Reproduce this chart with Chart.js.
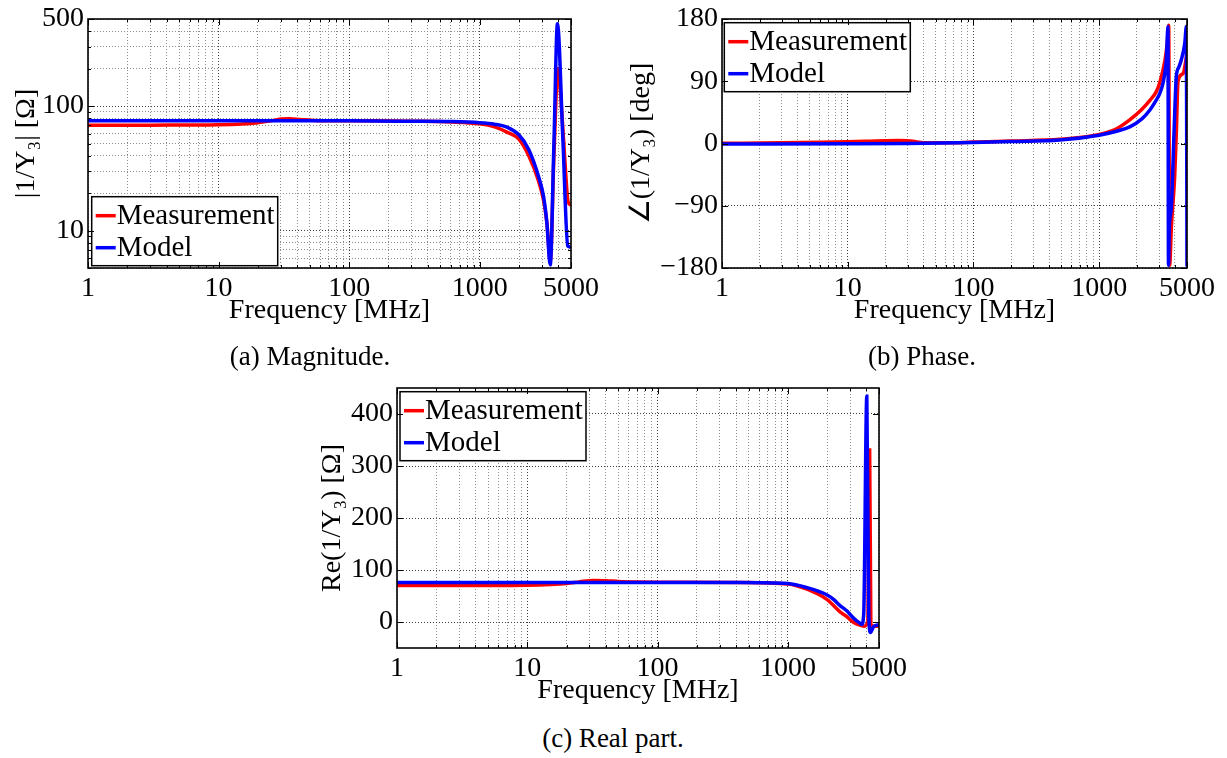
<!DOCTYPE html>
<html>
<head>
<meta charset="utf-8">
<script src="https://cdn.jsdelivr.net/npm/chart.js@4.4.1/dist/chart.umd.min.js"></script>
<style>
  body { margin: 0; width: 1227px; height: 758px; background: #fff; position: relative; overflow: hidden; }
  canvas { position: absolute; }
  .caption { position: absolute; width: 300px; text-align: center; font: 27px "Liberation Serif", serif; line-height: 27px; color: #000; }
</style>
</head>
<body>
<canvas id="cMag" width="600" height="330" style="left:0px;top:0px"></canvas>
<canvas id="cPhase" width="627" height="330" style="left:600px;top:0px"></canvas>
<canvas id="cRe" width="630" height="340" style="left:290px;top:370px"></canvas>
<div class="caption" style="left:160px;top:343px">(a) Magnitude.</div>
<div class="caption" style="left:772px;top:343px">(b) Phase.</div>
<div class="caption" style="left:463px;top:725px">(c) Real part.</div>

<script>
/* ── Data ─────────────────────────────────────────────────── */

// frequency axis (MHz), shared by the three panels
const freqGrid = [1, 2, 3, 4, 5, 6, 7, 8, 9, 10, 20, 30, 40, 50, 60, 70, 80, 90,
  100, 200, 300, 400, 500, 600, 700, 800, 900, 1000, 2000, 3000, 4000, 5000];
const freqLabels = [1, 10, 100, 1000, 5000];
const freqDark = [10, 100, 1000];

// (a) magnitude |1/Y3| [Ohm]
const magGrid = [5, 6, 7, 8, 9, 10, 20, 30, 40, 50, 60, 70, 80, 90, 100, 200, 300, 400, 500];
const magLabels = [10, 100, 500];
const magDark = [10, 100];
const magFreqMeas = [1, 3, 10, 15, 20, 25, 30, 35, 42, 55, 80, 150, 300, 600, 1000, 1300, 1600,
  2000, 2370, 2820, 3080, 3270, 3470, 3700, 3975, 4250, 4500, 4750, 5000];
const magMeas = [70, 70.2, 70.8, 71.8, 73.5, 76, 78.5, 79, 78, 76.5, 76, 76, 75.5, 74.5, 72, 68, 62,
  54, 40, 25, 17.5, 11.5, 5.6, 40, 200, 90, 35, 17, 16];
const magFreqModel = [1, 10, 100, 300, 600, 1000, 1300, 1600, 1985, 2366, 2820, 3080, 3265, 3466,
  3700, 3937, 4330, 4724, 4850, 5000];
const magModel = [76, 76, 76, 75.5, 75, 73.5, 71.5, 68, 59, 45, 27.2, 18.8, 11.6, 5.3,
  50, 458, 55, 7.5, 7.4, 7.3];

// (b) phase [deg]
const phaseTicks = [-180, -90, 0, 90, 180];
const phaseFreqMeas = [1, 3, 6, 10, 15, 20, 25, 30, 35, 42, 60, 100, 200, 486, 1000, 1400, 1750, 2200,
  2525, 2850, 3033, 3322, 3480, 3575, 3640, 3757, 3990, 4113, 4240, 4645, 5000];
const phaseMeas = [0.3, 1, 1.8, 2.6, 3.4, 4, 4.3, 4, 2.5, 1, 1, 2, 3.5, 6, 13, 22, 34, 50,
  62, 75, 88, 118, 145, 171, -176, -120, -48, 15, 90, 101, 130];
const phaseFreqModel = [1, 10, 30, 100, 200, 486, 1000, 1400, 1750, 2200, 2525, 2853, 3033, 3219,
  3322, 3425, 3530, 3560, 3620, 3757, 3950, 4113, 4300, 4507, 4800, 4943, 5000];
const phaseModel = [-0.6, -0.4, 0, 1.5, 3, 5, 12, 18, 24, 36, 48, 63, 72, 87,
  101, 121, 169, -176, -120, -91, 20, 97, 110, 121, 145, 169, -178];

// (c) real part Re(1/Y3) [Ohm]
const reTicks = [0, 100, 200, 300, 400];
const reFreqMeas = [1, 5, 10, 15, 20, 25, 32, 40, 50, 70, 100, 431, 1000, 1400, 2000, 2524, 2843,
  3013, 3300, 3597, 3850, 4100, 4238, 4330, 4550, 5000];
const reMeas = [70, 70, 70.5, 72, 74, 77, 80, 79.5, 78, 77, 76.5, 76, 73, 63, 43, 19, 10,
  4, -3, -6, -8, 0, 331, -5, -8, -8];
const reFreqModel = [1, 10, 100, 431, 1000, 1402, 2000, 2250, 2524, 2843, 3013, 3300, 3597, 3680,
  3815, 4030, 4170, 4300, 4550, 5000];
const reModel = [76, 76, 76, 76, 74, 66, 52, 43, 31, 21, 14, 4, -3, -5,
  14, 434, 17, -20, -8.5, -5];

/* ── Helpers ──────────────────────────────────────────────── */

const FONT = '"Liberation Serif", "Times New Roman", serif';
Chart.defaults.font.family = FONT;
Chart.defaults.color = '#000';

const pts = (xs, ys) => xs.map((x, i) => ({ x, y: ys[i] }));

function series(freqM, meas, freqMod, model) {
  const common = { pointRadius: 0, borderWidth: 3.5, fill: false, cubicInterpolationMode: 'monotone' };
  return [
    { label: 'Measurement', data: pts(freqM, meas), borderColor: '#ff0000', order: 2, ...common },
    { label: 'Model', data: pts(freqMod, model), borderColor: '#0000ff', order: 1, ...common },
  ];
}

const gridColor = dark => ctx => (ctx.tick && dark.includes(ctx.tick.value) ? '#404040' : '#8c8c8c');

function xAxis(height) {
  return {
    type: 'logarithmic', min: 1, max: 5000,
    afterBuildTicks: s => { s.ticks = freqGrid.map(v => ({ value: v })); },
    afterFit: s => { s.height = height; s.paddingLeft = 0; s.paddingRight = 0; },
    ticks: {
      autoSkip: false, maxRotation: 0, padding: 7,
      font: { size: 28, lineHeight: 1 },
      callback: v => (freqLabels.includes(v) ? String(v) : ''),
    },
    grid: { drawTicks: false, lineWidth: 1, color: gridColor(freqDark) },
    border: { display: false, dash: [1, 2] },
    title: { display: true, text: 'Frequency [MHz]', font: { size: 28, lineHeight: 1 }, padding: { top: 0, bottom: 5 } },
  };
}

function yAxis(opts) {
  return {
    type: opts.type, min: opts.min, max: opts.max,
    afterBuildTicks: s => { s.ticks = opts.grid.map(v => ({ value: v })); },
    afterFit: s => { s.width = opts.width; s.paddingTop = 0; s.paddingBottom = 0; },
    ticks: {
      autoSkip: false, padding: 4,
      font: { size: 28, lineHeight: 1 },
      callback: v => (opts.labels.includes(v) ? (v < 0 ? '\u2212' + Math.abs(v) : String(v)) : ''),
    },
    grid: { drawTicks: false, lineWidth: 1, color: gridColor(opts.dark) },
    border: { display: false, dash: [1, 2] },
    title: { display: true, text: opts.title, font: { size: 28, lineHeight: 1 }, padding: { top: opts.titlePad, bottom: 0 } },
  };
}

/* ── Plugins: boxed legend + axes frame ───────────────────── */

const boxLegend = {
  id: 'boxLegend',
  afterDatasetsDraw(chart, args, opts) {
    const { ctx, chartArea: a } = chart;
    const w = 186, h = 69;
    const x = a.left + opts.dx;
    const y = opts.anchor === 'bottom' ? a.bottom - opts.dy - h : a.top + opts.dy;
    ctx.save();
    ctx.fillStyle = '#fff';
    ctx.fillRect(x, y, w, h);
    ctx.strokeStyle = '#000';
    ctx.lineWidth = 1.5;
    ctx.strokeRect(x, y, w, h);
    ctx.font = '29px ' + FONT;
    ctx.textBaseline = 'middle';
    chart.data.datasets.forEach((ds, i) => {
      const ry = y + 19 + i * 32;
      ctx.strokeStyle = ds.borderColor;
      ctx.lineWidth = 3.5;
      ctx.beginPath();
      ctx.moveTo(x + 4, ry);
      ctx.lineTo(x + 24, ry);
      ctx.stroke();
      ctx.fillStyle = '#000';
      ctx.fillText(ds.label, x + 25, ry + 1);
    });
    ctx.restore();
  },
};

const frame = {
  id: 'frame',
  afterDraw(chart) {
    const { ctx, chartArea: a, scales } = chart;
    ctx.save();
    ctx.strokeStyle = '#000';
    ctx.lineWidth = 1;
    // small inward tick marks on all four sides
    ctx.beginPath();
    scales.x.ticks.forEach(t => {
      const px = Math.round(scales.x.getPixelForValue(t.value)) + 0.5;
      const len = t.label ? 6 : 3;
      ctx.moveTo(px, a.bottom); ctx.lineTo(px, a.bottom - len);
      ctx.moveTo(px, a.top); ctx.lineTo(px, a.top + len);
    });
    scales.y.ticks.forEach(t => {
      const py = Math.round(scales.y.getPixelForValue(t.value)) + 0.5;
      const len = t.label ? 6 : 3;
      ctx.moveTo(a.left, py); ctx.lineTo(a.left + len, py);
      ctx.moveTo(a.right, py); ctx.lineTo(a.right - len, py);
    });
    ctx.stroke();
    ctx.lineWidth = 1.6;
    ctx.strokeRect(a.left, a.top, a.right - a.left, a.bottom - a.top);
    ctx.restore();
  },
};

function makeChart(id, datasets, y, padding, legend) {
  return new Chart(document.getElementById(id), {
    type: 'line',
    data: { datasets },
    options: {
      responsive: false, animation: false, devicePixelRatio: 1,
      layout: { padding },
      scales: { x: xAxis(62), y },
      plugins: { legend: { display: false }, tooltip: { enabled: false }, boxLegend: legend },
    },
    plugins: [boxLegend, frame],
  });
}

/* ── Panels ───────────────────────────────────────────────── */

makeChart('cMag', series(magFreqMeas, magMeas, magFreqModel, magModel),
  yAxis({ type: 'logarithmic', min: 5, max: 500, grid: magGrid, labels: magLabels, dark: magDark,
    width: 88, titlePad: 13, title: '|1/Y\u2083| [\u03A9]' }),
  { top: 19, right: 29, left: 0, bottom: 0 },
  { anchor: 'bottom', dx: 3.7, dy: 2.3 });

makeChart('cPhase', series(phaseFreqMeas, phaseMeas, phaseFreqModel, phaseModel),
  yAxis({ type: 'linear', min: -180, max: 180, grid: phaseTicks, labels: phaseTicks, dark: phaseTicks,
    width: 122, titlePad: 28, title: '\u2220(1/Y\u2083) [deg]' }),
  { top: 19, right: 40, left: 0, bottom: 0 },
  { anchor: 'top', dx: 2.3, dy: 3.7 });

makeChart('cRe', series(reFreqMeas, reMeas, reFreqModel, reModel),
  yAxis({ type: 'linear', min: -50, max: 450, grid: reTicks, labels: reTicks, dark: reTicks,
    width: 107, titlePad: 29, title: 'Re(1/Y\u2083) [\u03A9]' }),
  { top: 18, right: 41, left: 0, bottom: 0 },
  { anchor: 'top', dx: 3, dy: 3.7 });
</script>
</body>
</html>
